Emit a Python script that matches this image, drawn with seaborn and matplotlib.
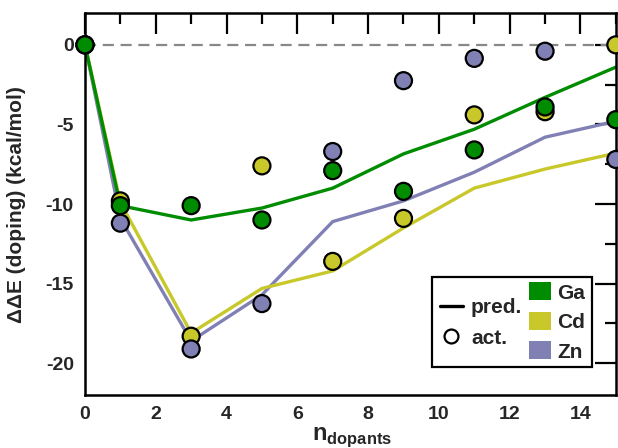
import matplotlib
matplotlib.use("Agg")
import matplotlib.pyplot as plt
from matplotlib.lines import Line2D
from matplotlib.patches import Patch, Rectangle
from matplotlib.ticker import MultipleLocator
import numpy as np
import pandas as pd
import seaborn as sns

# Doping energies vs. number of dopants
n_dopants = [0, 1, 3, 5, 7, 9, 11, 13, 15]

ga_act = [0, -10.1, -10.1, -11.0, -7.9, -9.2, -6.6, -3.9, -4.7]
cd_act = [0, -9.8, -18.3, -7.6, -13.6, -10.9, -4.4, -4.2, 0.0]
zn_act = [0, -11.2, -19.1, -16.25, -6.7, -2.25, -0.85, -0.4, -7.2]

ga_pred = [0, -10.1, -11.0, -10.25, -9.0, -6.85, -5.3, -3.3, -1.4]
cd_pred = [0, -9.9, -18.1, -15.3, -14.2, -11.5, -9.0, -7.8, -6.8]
zn_pred = [0, -10.9, -18.6, -15.7, -11.1, -9.8, -8.0, -5.8, -4.8]

dopants = ["Ga", "Cd", "Zn"]
colors = {"Ga": "#008c00", "Cd": "#c8c82a", "Zn": "#8080b4"}

x_ticks = [0, 2, 4, 6, 8, 10, 12, 14]
y_ticks = [0, -5, -10, -15, -20]

sns.set_theme(style="white")
plt.rcParams["font.family"] = ["Liberation Sans", "DejaVu Sans"]
plt.rcParams["font.weight"] = "bold"
plt.rcParams["axes.unicode_minus"] = False
plt.rcParams["mathtext.fontset"] = "custom"
plt.rcParams["mathtext.bf"] = "Liberation Sans:bold"
plt.rcParams["mathtext.rm"] = "Liberation Sans:bold"

pred_df = pd.concat([
    pd.DataFrame({"n": n_dopants, "dE": zn_pred, "dopant": "Zn"}),
    pd.DataFrame({"n": n_dopants, "dE": cd_pred, "dopant": "Cd"}),
    pd.DataFrame({"n": n_dopants, "dE": ga_pred, "dopant": "Ga"}),
], ignore_index=True)

act_df = pd.concat([
    pd.DataFrame({"n": n_dopants, "dE": cd_act, "dopant": "Cd"}),
    pd.DataFrame({"n": n_dopants, "dE": zn_act, "dopant": "Zn"}),
    pd.DataFrame({"n": n_dopants, "dE": ga_act, "dopant": "Ga"}),
], ignore_index=True)

fig = plt.figure(figsize=(6.18, 4.48), dpi=100)
ax = fig.add_axes([0.1375, 0.118, 0.859, 0.853])

ax.axhline(0, color="#888888", lw=1.6, dashes=(5, 3), zorder=1)

sns.lineplot(data=pred_df, x="n", y="dE", hue="dopant",
             hue_order=["Zn", "Cd", "Ga"], palette=colors,
             lw=2.4, legend=False, ax=ax, zorder=2)
sns.scatterplot(data=act_df, x="n", y="dE", hue="dopant",
                palette=colors, s=150, edgecolor="black", linewidth=1.6,
                legend=False, ax=ax, zorder=3, clip_on=False)

ax.set_xlim(0, 15)
ax.set_ylim(-22, 2)
ax.set_xticks(x_ticks)
ax.set_yticks(y_ticks)
ax.set_xticklabels([str(v) for v in x_ticks])
ax.set_yticklabels([str(v) for v in y_ticks])
ax.xaxis.set_minor_locator(MultipleLocator(1))
ax.yaxis.set_minor_locator(MultipleLocator(2.5))
ax.tick_params(which="both", direction="in", top=True, right=True,
               width=1.6, color="black", labelsize=14)
ax.tick_params(which="major", length=15, pad=8)
ax.tick_params(which="minor", length=8)
for lab in ax.get_xticklabels() + ax.get_yticklabels():
    lab.set_fontweight("bold")
for sp in ax.spines.values():
    sp.set_color("black")
    sp.set_linewidth(1.8)

ax.set_ylabel("ΔΔE (doping) (kcal/mol)", fontsize=15, fontweight="bold")
ax.set_xlabel(r"$\mathbf{n}_{\mathbf{dopants}}$", fontsize=17)
ax.yaxis.set_label_coords(-0.112, 0.5)
ax.xaxis.set_label_coords(0.503, -0.078)

# Legend box with line/marker key and dopant colour key
box = Rectangle((432 / 618, 1 - 367 / 448), 160 / 618, 90 / 448,
                transform=fig.transFigure, facecolor="white",
                edgecolor="black", lw=1.6, zorder=5)
fig.add_artist(box)

key_handles = [Line2D([], [], color="black", lw=2.4),
               Line2D([], [], color="black", lw=0, marker="o",
                      markerfacecolor="white", markeredgewidth=1.6,
                      markersize=10)]
leg1 = fig.legend(key_handles, ["pred.", "act."], loc="center",
                  bbox_to_anchor=(481 / 618, 1 - 323 / 448),
                  frameon=False, handlelength=1.1,
                  handletextpad=0.4, labelspacing=0.55,
                  prop={"weight": "bold", "size": 15})
leg1.set_zorder(6)

patch_handles = [Patch(facecolor=colors[d], edgecolor="none") for d in dopants]
leg2 = fig.legend(patch_handles, dopants, loc="center",
                  bbox_to_anchor=(557 / 618, 1 - 322 / 448),
                  frameon=False, handlelength=1.05, handleheight=0.95,
                  handletextpad=0.3, labelspacing=0.45,
                  prop={"weight": "bold", "size": 15})
leg2.set_zorder(6)

fig.savefig("out.png", dpi=100)
